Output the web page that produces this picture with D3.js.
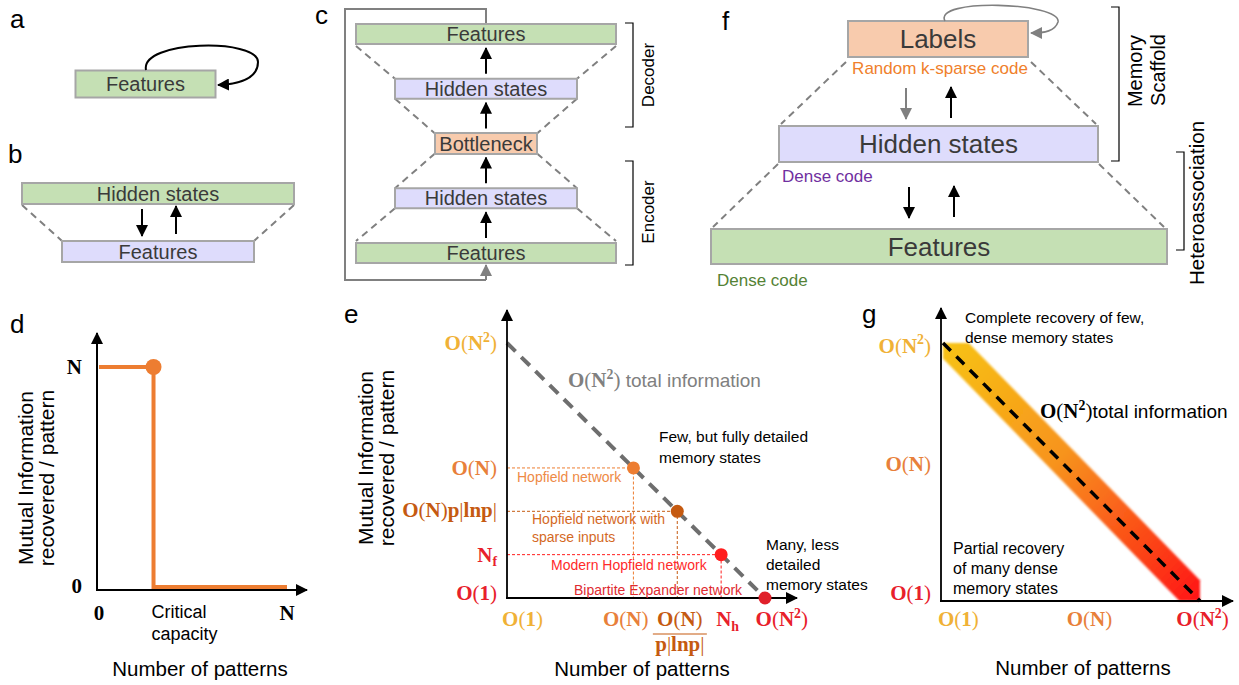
<!DOCTYPE html>
<html lang="en">
<head>
<meta charset="UTF-8" />
<title>memory models</title>
<script src="https://cdn.jsdelivr.net/npm/d3@7"></script>
<style>
  body { margin: 0; background: #fff; }
  svg text { font-family: "Liberation Sans", Arial, sans-serif; }
  svg text.math { font-family: "Liberation Serif", "DejaVu Serif", serif; }
</style>
</head>
<body>
<svg id="fig" width="1239" height="685"></svg>
<script>
// ---------- data ----------
// panel d : information recovered per pattern vs number of patterns (in units of N)
const dStepX = [0, 0.29, 0.29, 1];
const dStepY = [1, 1, 0, 0];
const dCritical = [0.29, 1];
const dYTicks = [1, 0];
const dYTickLabels = ["N", "0"];
const dXTicks = [0, 1];
const dXTickLabels = ["0", "N"];

// panel e : networks on the total-information line
const eNames = ["Hopfield network", "Hopfield network with|sparse inputs", "Modern Hopfield network", "Bipartite Expander network"];
const ePatterns = [0.49, 0.66, 0.83, 1.0];
const eInfo = [0.51, 0.34, 0.17, 0.0];
const eColors = ["#ed7d31", "#c55a11", "#ff1e1e", "#e0202a"];
const eTextColors = ["#ee8a45", "#d4691f", "#ff2a2a", "#e02a30"];
const eYTicks = [1, 0.51, 0.345, 0.17, 0.02];
const eXTicks = [0.06, 0.46, 0.67, 0.855, 1.065];

// panel g : band around the total-information line
const gBandX = [0, 0.1, 1, 1, 0.92, 0];
const gBandY = [1, 1, 0.08, 0, 0, 0.94];
const gYTicks = [0.99, 0.53, 0.03];
const gXTicks = [0.06, 0.57, 1.01];

// math labels, [text, style]
const ON2 = [["O","b"],["(","r"],["N","b"],["2","sup"],[")","r"]];
const ON  = [["O","b"],["(","r"],["N","b"],[")","r"]];
const O1  = [["O","b"],["(","r"],["1","b"],[")","r"]];
const ONp = [["O","b"],["(","r"],["N","b"],[")","r"],["p","b"],["|","r"],["lnp","b"],["|","r"]];
const Nf  = [["N","b"],["f","sub"]];
const Nh  = [["N","b"],["h","sub"]];
const PLNP = [["p","b"],["|","r"],["lnp","b"],["|","r"]];

const gold = "#f0b136", orange = "#e8803a", brown = "#c55a11", red = "#e8202a";
const eYLabels = [ON2, ON, ONp, Nf, O1];
const eYColors = [gold, orange, brown, red, red];
const eXLabels = [O1, ON, null, Nh, ON2];
const eXColors = [gold, orange, brown, red, red];
const gYLabels = [ON2, ON, O1];
const gYColors = [gold, orange, red];
const gXLabels = [O1, ON, ON2];
const gXColors = [gold, orange, red];

// ---------- helpers ----------
const svg = d3.select("#fig");
const defs = svg.append("defs");

function marker(id, color) {
  defs.append("marker").attr("id", id)
    .attr("viewBox", "0 0 12 12").attr("markerUnits", "userSpaceOnUse")
    .attr("markerWidth", 12).attr("markerHeight", 12)
    .attr("refX", 11).attr("refY", 6).attr("orient", "auto")
    .append("path").attr("d", "M0,0 L12,6 L0,12 z").attr("fill", color);
}
marker("ab", "#000");
marker("ag", "#808080");

const grad = defs.append("linearGradient").attr("id", "band")
  .attr("x1", "0%").attr("y1", "0%").attr("x2", "100%").attr("y2", "100%");
grad.append("stop").attr("offset", "0%").attr("stop-color", "#f7c312");
grad.append("stop").attr("offset", "45%").attr("stop-color", "#f7931e");
grad.append("stop").attr("offset", "100%").attr("stop-color", "#ff1414");
defs.append("filter").attr("id", "soft").append("feGaussianBlur").attr("stdDeviation", 1.3);

function math(g, x, y, parts, color, anchor, size) {
  const t = g.append("text").attr("class", "math").attr("x", x).attr("y", y)
    .attr("text-anchor", anchor).attr("fill", color).attr("font-size", size);
  let shift = 0;
  parts.forEach(([s, k]) => {
    const ts = t.append("tspan").text(s)
      .attr("font-weight", k === "r" ? "normal" : "bold");
    const want = k === "sup" ? -size * 0.4 : k === "sub" ? size * 0.22 : 0;
    if (want !== shift) { ts.attr("dy", want - shift); shift = want; }
    if (k === "sup" || k === "sub") ts.attr("font-size", size * 0.66);
  });
  return t;
}

function label(g, x, y, s, opts = {}) {
  return g.append("text").attr("x", x).attr("y", y).text(s)
    .attr("font-size", opts.size || 16)
    .attr("fill", opts.color || "#000")
    .attr("text-anchor", opts.anchor || "start");
}

function vlabel(g, x, y, s, size) {
  return g.append("text").attr("transform", `translate(${x},${y}) rotate(-90)`)
    .attr("text-anchor", "middle").attr("font-size", size).text(s);
}

function box(g, cx, cy, w, h, fill, text, size) {
  g.append("rect").attr("x", cx - w / 2).attr("y", cy - h / 2)
    .attr("width", w).attr("height", h)
    .attr("fill", fill).attr("stroke", "#a6a6a6").attr("stroke-width", 2);
  g.append("text").attr("x", cx).attr("y", cy + size * 0.36)
    .attr("text-anchor", "middle").attr("font-size", size).attr("fill", "#3a3a3a").text(text);
}

function arrow(g, x1, y1, x2, y2, color = "#000", w = 2) {
  g.append("line").attr("x1", x1).attr("y1", y1).attr("x2", x2).attr("y2", y2)
    .attr("stroke", color).attr("stroke-width", w)
    .attr("marker-end", color === "#000" ? "url(#ab)" : "url(#ag)");
}

function dashed(g, pts) {
  g.append("path").attr("d", d3.line()(pts)).attr("fill", "none")
    .attr("stroke", "#808080").attr("stroke-width", 2).attr("stroke-dasharray", "7,5");
}

function bracket(g, x, y1, y2) {
  g.append("path").attr("d", `M${x - 8},${y1} H${x} V${y2} H${x - 8}`)
    .attr("fill", "none").attr("stroke", "#000").attr("stroke-width", 1.2);
}

const green = "#c5e0b4", lav = "#dedcfc", peach = "#f8cbad";

// panel letters
[["a", 10, 28], ["b", 8, 163], ["c", 315, 24], ["d", 10, 333], ["e", 344, 323], ["f", 722, 30], ["g", 862, 323]]
  .forEach(([s, x, y]) => label(svg, x, y, s, { size: 26 }));

// ---------- panel a ----------
const pa = svg.append("g");
box(pa, 145.5, 84, 140, 27, green, "Features", 20);
pa.append("path").attr("d", "M146,70 C140,40 258,38 258,62 C258,78 240,84 218,85")
  .attr("fill", "none").attr("stroke", "#000").attr("stroke-width", 2).attr("marker-end", "url(#ab)");

// ---------- panel b ----------
const pb = svg.append("g");
dashed(pb, [[22, 205], [62, 241]]);
dashed(pb, [[294, 205], [254, 241]]);
box(pb, 158, 193.5, 272, 21, green, "Hidden states", 20);
box(pb, 158, 251.5, 192, 21, lav, "Features", 20);
arrow(pb, 142, 209, 142, 236);
arrow(pb, 176, 234, 176, 206);

// ---------- panel c ----------
const pc = svg.append("g");
const cLayers = ["Features", "Hidden states", "Bottleneck", "Hidden states", "Features"];
const cFills = [green, lav, peach, lav, green];
const cW = [260, 182, 102, 182, 260];
const cy = d3.scalePoint().domain(d3.range(5)).range([253, 34]);
const cx = 486, ch = 20;
// dashed hourglass
[-1, 1].forEach(s => {
  dashed(pc, [[cx + s * cW[4] / 2, cy(4) + ch / 2 + 2], [cx + s * cW[3] / 2, cy(3) - ch / 2]]);
  dashed(pc, [[cx + s * cW[3] / 2, cy(3) + ch / 2], [cx + s * cW[2] / 2, cy(2) - ch / 2]]);
  dashed(pc, [[cx + s * cW[2] / 2, cy(2) + ch / 2], [cx + s * cW[1] / 2, cy(1) - ch / 2]]);
  dashed(pc, [[cx + s * cW[1] / 2, cy(1) + ch / 2], [cx + s * cW[0] / 2, cy(0) - ch / 2 - 2]]);
});
// feedback loop
pc.append("path").attr("d", `M${cx},${cy(4) - ch / 2} V9 H345 V280 H${cx}`)
  .attr("fill", "none").attr("stroke", "#808080").attr("stroke-width", 2);
arrow(pc, cx, 280, cx, cy(0) + ch / 2 + 2, "#808080");
cLayers.forEach((l, i) => box(pc, cx, cy(i), cW[i], ch + (i === 2 ? 1 : 0), cFills[i], l, 20));
for (let i = 0; i < 4; i++) arrow(pc, cx, cy(i) - ch / 2 - 5, cx, cy(i + 1) + ch / 2 + 4);
bracket(pc, 633, 23, 127);
bracket(pc, 633, 161, 265);
vlabel(pc, 654, 75, "Decoder", 17);
vlabel(pc, 654, 212, "Encoder", 17);

// ---------- panel f ----------
const pf = svg.append("g");
dashed(pf, [[846, 62], [781, 124]]);
dashed(pf, [[1031, 62], [1096, 124]]);
dashed(pf, [[778, 164], [713, 227]]);
dashed(pf, [[1099, 164], [1164, 227]]);
box(pf, 938, 39, 180, 36, peach, "Labels", 26);
box(pf, 938.5, 144, 319, 36, lav, "Hidden states", 26);
box(pf, 939, 246.5, 456, 35, green, "Features", 26);
pf.append("path").attr("d", "M945,21 C932,-2 1062,2 1058,22 C1055,31 1045,33 1031,33")
  .attr("fill", "none").attr("stroke", "#808080").attr("stroke-width", 1.6).attr("marker-end", "url(#ag)");
label(pf, 940, 74, "Random k-sparse code", { size: 17, color: "#f07f2c", anchor: "middle" });
label(pf, 782, 182, "Dense code", { size: 17, color: "#7030a0" });
label(pf, 717, 286, "Dense code", { size: 17, color: "#548235" });
arrow(pf, 906, 88, 906, 119, "#808080");
arrow(pf, 951, 118, 951, 87);
arrow(pf, 909, 187, 909, 218);
arrow(pf, 954, 217, 954, 186);
bracket(pf, 1119, 7, 161);
bracket(pf, 1184, 152, 250);
vlabel(pf, 1142, 71, "Memory", 20);
vlabel(pf, 1165, 70, "Scaffold", 20);
vlabel(pf, 1204, 203, "Heteroassociation", 20.5);

// ---------- panel d ----------
const pd = svg.append("g");
const dx = d3.scaleLinear().domain([0, 1]).range([99, 287]);
const dy = d3.scaleLinear().domain([0, 1]).range([587, 367]);
arrow(pd, 97, 591, 97, 333, "#000", 2);
arrow(pd, 96, 590, 307, 590, "#000", 2);
pd.append("path").attr("d", d3.line().x(d => dx(d[0])).y(d => dy(d[1]))(dStepX.map((x, i) => [x, dStepY[i]])))
  .attr("fill", "none").attr("stroke", "#ed7d31").attr("stroke-width", 4);
pd.append("circle").attr("cx", dx(dCritical[0])).attr("cy", dy(dCritical[1])).attr("r", 8).attr("fill", "#ed7d31");
dYTicks.forEach((v, i) => math(pd, 82, dy(v) + 7 + (v === 0 ? -1 : 0), [[dYTickLabels[i], "b"]], "#000", "end", 21));
dXTicks.forEach((v, i) => math(pd, dx(v), 620, [[dXTickLabels[i], "b"]], "#000", "middle", 21));
label(pd, dx(dCritical[0]) - 2, 618, "Critical", { size: 18 });
label(pd, dx(dCritical[0]) - 2, 640, "capacity", { size: 18 });
label(pd, 200, 676, "Number of patterns", { size: 20.5, anchor: "middle" });
vlabel(pd, 33, 478, "Mutual Information", 21);
vlabel(pd, 54, 478, "recovered  / pattern", 21);

// ---------- panel e ----------
const pe = svg.append("g");
const ex = d3.scaleLinear().domain([0, 1]).range([507, 765]);
const ey = d3.scaleLinear().domain([0, 1]).range([598, 343]);
// guide lines
ePatterns.slice(0, 3).forEach((p, i) => {
  pe.append("path").attr("d", d3.line()([[ex(0), ey(eInfo[i])], [ex(p), ey(eInfo[i])], [ex(p), ey(0)]]))
    .attr("fill", "none").attr("stroke", eColors[i]).attr("stroke-width", 1).attr("stroke-dasharray", "3,2");
});
pe.append("line").attr("x1", ex(0)).attr("y1", ey(1)).attr("x2", ex(0.99)).attr("y2", ey(0.01))
  .attr("stroke", "#6e6e6e").attr("stroke-width", 4).attr("stroke-dasharray", "12,8");
arrow(pe, ex(0), ey(0) + 1, ex(0), 310, "#000", 1.8);
arrow(pe, ex(0) - 1, ey(0), 797, ey(0), "#000", 1.8);
pe.selectAll("circle.net").data(ePatterns).join("circle").attr("class", "net")
  .attr("cx", d => ex(d)).attr("cy", (d, i) => ey(eInfo[i])).attr("r", 6.5)
  .attr("fill", (d, i) => eColors[i]);
// network names
const eNamePos = [[517, 482], [532, 524], [551, 570], [574, 595]];
eNames.forEach((n, i) => n.split("|").forEach((s, j) =>
  label(pe, eNamePos[i][0], eNamePos[i][1] + j * 18, s, { size: 14, color: eTextColors[i] })));
// ticks
eYTicks.forEach((v, i) => math(pe, 497, ey(v) + 7, eYLabels[i], eYColors[i], "end", 21));
eXTicks.forEach((v, i) => {
  if (eXLabels[i]) math(pe, ex(v), 626, eXLabels[i], eXColors[i], "middle", 21);
});
math(pe, ex(eXTicks[2]), 626, ON, brown, "middle", 21);
pe.append("line").attr("x1", ex(eXTicks[2]) - 27).attr("x2", ex(eXTicks[2]) + 27)
  .attr("y1", 634).attr("y2", 634).attr("stroke", brown).attr("stroke-width", 1.2);
math(pe, ex(eXTicks[2]), 651, PLNP, brown, "middle", 21);
// annotations
const tl = math(pe, 568, 387, ON2, "#808080", "start", 21);
tl.append("tspan").attr("font-family", "Liberation Sans, Arial, sans-serif")
  .attr("font-weight", "normal").attr("font-size", 19).text(" total information");
label(pe, 659, 442, "Few, but fully detailed", { size: 15.5 });
label(pe, 659, 463, "memory states", { size: 15.5 });
label(pe, 766, 550, "Many, less", { size: 15.5 });
label(pe, 766, 570, "detailed", { size: 15.5 });
label(pe, 766, 590, "memory states", { size: 15.5 });
label(pe, 642, 676, "Number of patterns", { size: 20.5, anchor: "middle" });
vlabel(pe, 373, 458, "Mutual Information", 21);
vlabel(pe, 394, 458, "recovered  / pattern", 21);

// ---------- panel g ----------
const pg = svg.append("g");
const gx = d3.scaleLinear().domain([0, 1]).range([943, 1200]);
const gy = d3.scaleLinear().domain([0, 1]).range([601, 343]);
pg.append("path").attr("d", d3.line().x(d => gx(d[0])).y(d => gy(d[1]))(gBandX.map((x, i) => [x, gBandY[i]])) + "Z")
  .attr("fill", "url(#band)").attr("filter", "url(#soft)");
pg.append("line").attr("x1", gx(0)).attr("y1", gy(1)).attr("x2", gx(1)).attr("y2", gy(0))
  .attr("stroke", "#000").attr("stroke-width", 3.5).attr("stroke-dasharray", "11,8");
arrow(pg, 941, 602, 941, 308, "#000", 1.8);
arrow(pg, 940, 601, 1233, 601, "#000", 1.8);
gYTicks.forEach((v, i) => math(pg, 931, gy(v) + 7, gYLabels[i], gYColors[i], "end", 21));
gXTicks.forEach((v, i) => math(pg, gx(v), 626, gXLabels[i], gXColors[i], "middle", 21));
const tg = math(pg, 1040, 418, ON2, "#000", "start", 21);
tg.append("tspan").attr("font-family", "Liberation Sans, Arial, sans-serif")
  .attr("font-weight", "normal").attr("font-size", 19).text("total information");
label(pg, 965, 323, "Complete recovery of few,", { size: 15.5 });
label(pg, 965, 343, "dense memory states", { size: 15.5 });
label(pg, 953, 554, "Partial recovery", { size: 16 });
label(pg, 953, 574, "of many dense", { size: 16 });
label(pg, 953, 594, "memory states", { size: 16 });
label(pg, 1083, 675, "Number of patterns", { size: 20.5, anchor: "middle" });
</script>
</body>
</html>
